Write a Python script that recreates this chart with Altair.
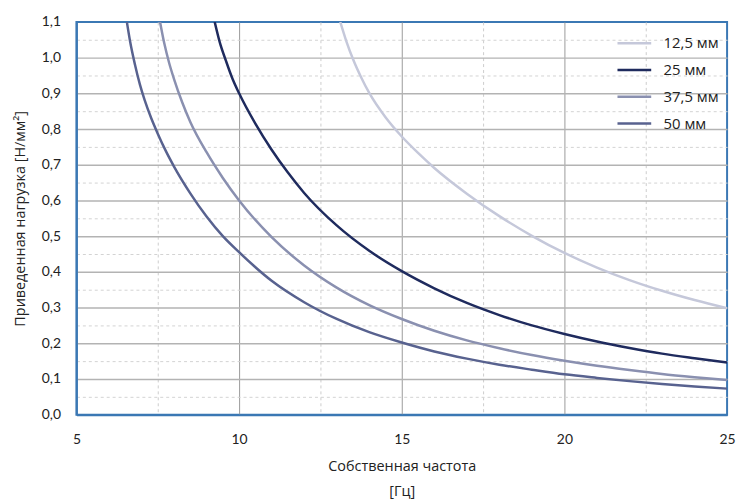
import altair as alt
import pandas as pd

# ---- data ----
series_names = ["12,5 мм", "25 мм", "37,5 мм", "50 мм"]
series_colors = ["#c5c8da", "#1f2b5e", "#8a90b0", "#58628f"]

f_125 = [13.11, 13.3, 13.5, 13.75, 14.0, 14.5, 15.0, 15.5, 16.0, 17.0, 18.0, 19.0, 20.0, 21.0, 22.0, 23.0, 24.0, 25.0]
y_125 = [1.10, 1.045, 0.996, 0.945, 0.901, 0.833, 0.779, 0.733, 0.691, 0.619, 0.556, 0.501, 0.453, 0.412, 0.377, 0.347, 0.321, 0.298]

f_25 = [9.25, 9.4, 9.6, 9.8, 10.0, 10.5, 11.0, 11.5, 12.0, 13.0, 14.0, 15.0, 16.0, 17.0, 18.0, 19.0, 20.0, 21.0, 22.0, 23.0, 24.0, 25.0]
y_25 = [1.10, 1.045, 0.99, 0.94, 0.90, 0.815, 0.742, 0.678, 0.621, 0.530, 0.459, 0.402, 0.354, 0.313, 0.279, 0.250, 0.226, 0.205, 0.187, 0.171, 0.158, 0.146]

f_375 = [7.57, 7.7, 7.85, 8.0, 8.25, 8.5, 9.0, 9.5, 10.0, 11.0, 12.0, 13.0, 14.0, 15.0, 16.0, 17.0, 18.0, 19.0, 20.0, 21.0, 22.0, 23.0, 24.0, 25.0]
y_375 = [1.10, 1.04, 0.985, 0.94, 0.875, 0.82, 0.735, 0.663, 0.600, 0.497, 0.418, 0.356, 0.307, 0.268, 0.235, 0.208, 0.186, 0.167, 0.151, 0.137, 0.125, 0.114, 0.105, 0.097]

f_50 = [6.55, 6.65, 6.8, 6.95, 7.1, 7.3, 7.5, 7.75, 8.0, 8.5, 9.0, 9.5, 10.0, 11.0, 12.0, 13.0, 14.0, 15.0, 16.0, 17.0, 18.0, 19.0, 20.0, 21.0, 22.0, 23.0, 24.0, 25.0]
y_50 = [1.10, 1.045, 0.98, 0.925, 0.88, 0.83, 0.787, 0.738, 0.695, 0.620, 0.555, 0.500, 0.455, 0.375, 0.315, 0.268, 0.231, 0.202, 0.177, 0.157, 0.140, 0.126, 0.113, 0.103, 0.094, 0.086, 0.079, 0.073]

x_ticks = [5, 7.5, 10, 12.5, 15, 17.5, 20, 22.5, 25]
y_ticks = [0, 0.05, 0.1, 0.15, 0.2, 0.25, 0.3, 0.35, 0.4, 0.45, 0.5, 0.55, 0.6,
           0.65, 0.7, 0.75, 0.8, 0.85, 0.9, 0.95, 1.0, 1.05, 1.1]

rows = []
for name, fs, ys in zip(series_names, [f_125, f_25, f_375, f_50], [y_125, y_25, y_375, y_50]):
    for i, (f, y) in enumerate(zip(fs, ys)):
        rows.append({"series": name, "f": f, "y": y, "order": i})
df = pd.DataFrame(rows)

FONT = "Lato"
TFONT = "Open Sans"
BORDER = "#3b78b4"

y_minor = "abs(datum.value*10 - round(datum.value*10)) > 0.01"
x_minor = "datum.value % 5 != 0"
y_edge = "datum.value < 0.01 || datum.value > 1.09"
x_edge = "datum.value < 5.01 || datum.value > 24.99"

chart = alt.Chart(df).mark_line(strokeWidth=2.5, clip=True, interpolate="monotone").encode(
    x=alt.X("f:Q",
            scale=alt.Scale(domain=[5, 25], nice=False, zero=False),
            axis=alt.Axis(values=x_ticks,
                          title=["Собственная частота", "[Гц]"],
                          titleLineHeight=25,
                          titleFontSize=14.5, titleFontWeight="normal", titleFont=TFONT,
                          titleColor="#222222", titlePadding=13,
                          labelExpr=f"{x_minor} ? '' : datum.label",
                          labelFontSize=14, labelFont=FONT, labelColor="#222222",
                          labelPadding=18, labelOverlap=False, labelFlush=False,
                          ticks=False, domain=True, domainColor=BORDER, domainWidth=2,
                          gridColor={"condition": {"test": x_minor, "value": "#cccccc"}, "value": "#9a9a9a"},
                          gridDash={"condition": {"test": x_minor, "value": [3, 3]}, "value": []},
                          gridOpacity={"condition": {"test": x_edge, "value": 0}, "value": 1},
                          gridWidth=1)),
    y=alt.Y("y:Q",
            scale=alt.Scale(domain=[0, 1.1], nice=False),
            axis=alt.Axis(values=y_ticks,
                          title="Приведенная нагрузка [Н/мм²]",
                          titleFontSize=14.5, titleFontWeight="normal", titleFont=TFONT,
                          titleColor="#222222", titlePadding=14,
                          labelExpr=f"{y_minor} ? '' : replace(format(datum.value, '.1f'), '.', ',')",
                          labelFontSize=14, labelFont=FONT, labelColor="#222222",
                          labelPadding=16, labelOverlap=False, labelFlush=False,
                          ticks=False, domain=True, domainColor=BORDER, domainWidth=2,
                          gridColor={"condition": {"test": y_minor, "value": "#d2d2d2"}, "value": "#b3b3b3"},
                          gridDash={"condition": {"test": y_minor, "value": [3, 3]}, "value": []},
                          gridOpacity={"condition": {"test": y_edge, "value": 0}, "value": 1},
                          gridWidth={"condition": {"test": y_minor, "value": 1}, "value": 1.5})),
    color=alt.Color("series:N",
                    scale=alt.Scale(domain=series_names, range=series_colors),
                    legend=alt.Legend(title=None, orient="none", legendX=544, legendY=3,
                                      symbolType="stroke", symbolSize=1156, symbolStrokeWidth=2.5,
                                      labelFont=TFONT, labelFontSize=15, labelColor="#222222",
                                      labelOffset=11, rowPadding=-11.5, padding=0)),
    order="order:Q",
).properties(
    width=656, height=396,
    autosize=alt.AutoSizeParams(type="none"),
    padding={"left": 69, "top": 12, "right": 10, "bottom": 86},
).configure(
    background="white"
).configure_view(
    stroke=BORDER, strokeWidth=2
)

chart.save("out.html", embed_options={"renderer": "svg", "actions": False})
